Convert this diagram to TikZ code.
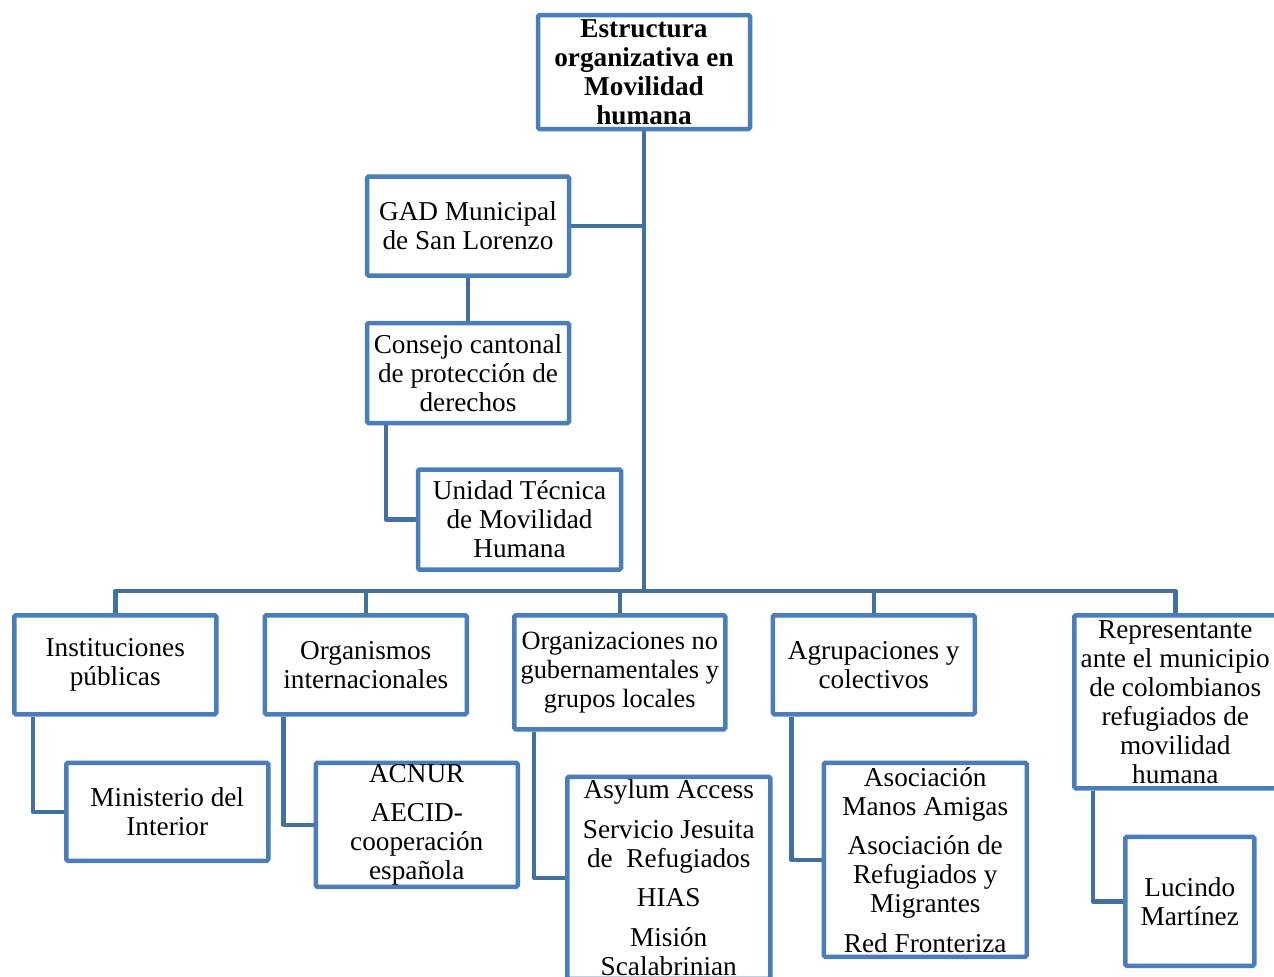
\documentclass[tikz,border=0pt]{standalone}
\usepackage{fontspec}
\setmainfont{Liberation Serif}
\usepackage{tikz}
\usetikzlibrary{positioning}

\definecolor{boxblue}{HTML}{4A7EBB}
\definecolor{linkblue}{HTML}{41719C}
\newcommand{\boxfont}{\fontsize{15.5}{16.5}\selectfont}
\newcommand{\tightfont}{\fontsize{15}{16.5}\selectfont}

\begin{document}
\begin{tikzpicture}[node distance={8.8mm},
	main/.style = {draw=boxblue, line width=0.9mm, rounded corners=0.3mm, fill=white, align=center, inner sep=0pt, minimum width=40.4mm, minimum height=19.8mm, font=\boxfont},
	link/.style = {draw=linkblue, line width=0.9mm, line join=round}]
		\useasboundingbox (0,0) rectangle (25.48,-19.54);

		% head and the left branch
		\node[main, minimum width=42.4mm, minimum height=22.8mm] (top) at (12.88,-1.44) {\textbf{Estructura}\\\textbf{organizativa en}\\\textbf{Movilidad}\\\textbf{humana}};
		\node[main] (gad) [below=8.6mm of top, xshift=-35.2mm] {GAD Municipal\\de San Lorenzo};
		\node[main, minimum height=20mm] (consejo) [below=8.6mm of gad] {Consejo cantonal\\de protección de\\derechos};
		\node[main, minimum width=40.6mm, minimum height=20mm] (unidad) [below=8.4mm of consejo, xshift=10.3mm] {Unidad Técnica\\de Movilidad\\Humana};

		% second row
		\node[main, anchor=north west] (inst) at (0.24,-12.26) {Instituciones\\públicas};
		\node[main] (org) [right=8.8mm of inst.north east, anchor=north west] {Organismos\\internacionales};
		\node[main, minimum width=42.2mm, minimum height=22.8mm, font=\tightfont] (ong) [right=8.6mm of org.north east, anchor=north west] {Organizaciones no\\gubernamentales y\\grupos locales};
		\node[main] (agr) [right=8.6mm of ong.north east, anchor=north west] {Agrupaciones y\\colectivos};
		\node[main, minimum height=34.6mm] (rep) [right=19mm of agr.north east, anchor=north west] {Representante\\ante el municipio\\de colombianos\\refugiados de\\movilidad\\humana};

		% third row
		\node[main, minimum height=19.6mm] (mini) [below right=8.8mm and 10.4mm of inst.south west] {Ministerio del\\Interior};
		\node[main, minimum height=24.8mm] (acnur) [below right=8.8mm and 10.2mm of org.south west] {ACNUR\\[6pt]AECID-\\cooperación\\española};
		\node[main, minimum width=40.6mm, minimum height=40.4mm] (asylum) [below right=8.6mm and 10.6mm of ong.south west] {Asylum Access\\[6pt]Servicio Jesuita\\de\ \ Refugiados\\[6pt]HIAS\\[6pt]Misión\\Scalabrinian};
		\node[main, minimum width=40.6mm, minimum height=38.8mm] (asoc) [below right=8.8mm and 10.2mm of agr.south west] {Asociación\\Manos Amigas\\[6pt]Asociación de\\Refugiados y\\Migrantes\\[6pt]Red Fronteriza};
		\node[main, minimum width=25.8mm, minimum height=25.8mm] (lucindo) [below right=8.8mm and 10.2mm of rep.south west] {Lucindo\\Martínez};

		% connectors
		\draw[link] (gad.east) -- (gad.east -| top.south);
		\draw[link] (gad) -- (consejo);
		\draw[link] ([xshift=4.2mm]consejo.south west) |- (unidad.west);
		\foreach \n in {inst, org, ong, agr, rep}
			\draw[link] (\n.north) -- ++(0,4.4mm) -| (top.south);
		\draw[link] ([xshift=4.2mm]inst.south west) |- (mini.west);
		\draw[link] ([xshift=4.2mm]org.south west) |- (acnur.west);
		\draw[link] ([xshift=4.4mm]ong.south west) |- (asylum.west);
		\draw[link] ([xshift=4.2mm]agr.south west) |- (asoc.west);
		\draw[link] ([xshift=4.2mm]rep.south west) |- (lucindo.west);
	\end{tikzpicture}
\end{document}
